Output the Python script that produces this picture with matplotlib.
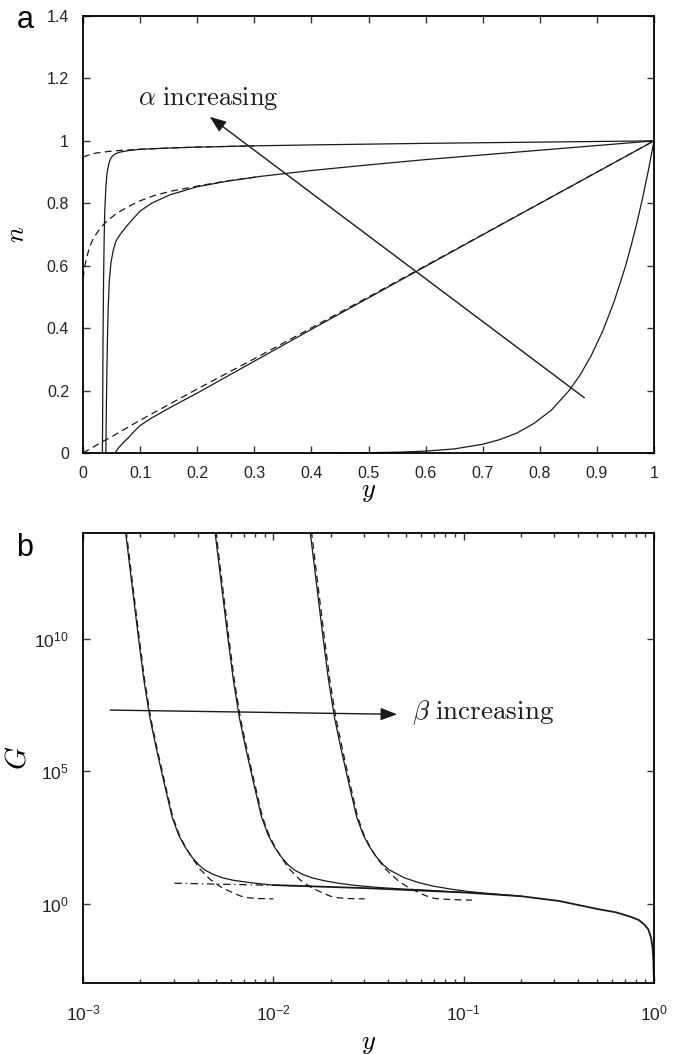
import numpy as np
import matplotlib
matplotlib.use("Agg")
import matplotlib.pyplot as plt
from matplotlib.ticker import FixedLocator, NullLocator, LogLocator, NullFormatter

plt.rcParams['font.family'] = ['Liberation Sans', 'DejaVu Sans']
plt.rcParams['axes.linewidth'] = 1.3

# ---------------- panel a data: n vs y ----------------
a_solid1_y = [0.034, 0.0345, 0.035, 0.036, 0.037, 0.038, 0.040, 0.042, 0.045, 0.048, 0.052, 0.057, 0.065, 0.08, 0.10, 0.15, 0.20, 0.30, 0.40, 0.60, 0.80, 1.00]
a_solid1_n = [0.0, 0.15, 0.35, 0.55, 0.68, 0.77, 0.85, 0.895, 0.925, 0.942, 0.952, 0.959, 0.964, 0.969, 0.973, 0.977, 0.980, 0.984, 0.987, 0.992, 0.996, 1.00]
a_dash1_y = [0.0, 0.01, 0.02, 0.035, 0.05, 0.07, 0.10, 0.15, 0.20, 0.30]
a_dash1_n = [0.948, 0.955, 0.960, 0.964, 0.967, 0.970, 0.973, 0.977, 0.980, 0.984]

a_solid2_y = [0.040, 0.0405, 0.041, 0.042, 0.043, 0.044, 0.046, 0.049, 0.053, 0.058, 0.065, 0.0765, 0.09, 0.10, 0.12, 0.152, 0.20, 0.25, 0.31, 0.40, 0.50, 0.60, 0.70, 0.80, 0.90, 1.00]
a_solid2_n = [0.0, 0.08, 0.16, 0.28, 0.38, 0.46, 0.55, 0.61, 0.65, 0.68, 0.70, 0.727, 0.755, 0.775, 0.800, 0.827, 0.853, 0.870, 0.886, 0.905, 0.923, 0.940, 0.955, 0.970, 0.985, 1.00]
a_dash2_y = [0.0, 0.002, 0.005, 0.01, 0.015, 0.02, 0.03, 0.04, 0.059, 0.08, 0.10, 0.125, 0.152, 0.20, 0.25, 0.31]
a_dash2_n = [0.56, 0.585, 0.615, 0.65, 0.675, 0.693, 0.72, 0.74, 0.768, 0.79, 0.808, 0.825, 0.838, 0.855, 0.871, 0.886]

a_solid3_y = [0.056, 0.058, 0.062, 0.070, 0.080, 0.090, 0.10, 0.12, 0.15, 0.20, 0.25, 0.30, 0.40, 0.50, 0.70, 1.00]
a_solid3_n = [0.0, 0.006, 0.016, 0.032, 0.050, 0.070, 0.088, 0.112, 0.143, 0.192, 0.243, 0.294, 0.396, 0.497, 0.699, 1.00]
a_dash3_y = [0.0, 0.03, 0.05, 0.10, 0.20, 0.30, 0.50, 1.00]
a_dash3_n = [0.0, 0.032, 0.052, 0.105, 0.205, 0.302, 0.500, 1.00]

a_solid4_y = [0.40, 0.45, 0.50, 0.55, 0.60, 0.65, 0.70, 0.73, 0.76, 0.79, 0.82, 0.85, 0.87, 0.89, 0.91, 0.93, 0.95, 0.96, 0.97, 0.98, 0.99, 1.00]
a_solid4_n = [0.0, 0.0003, 0.001, 0.0025, 0.006, 0.013, 0.028, 0.043, 0.064, 0.095, 0.137, 0.197, 0.248, 0.312, 0.39, 0.484, 0.598, 0.665, 0.737, 0.817, 0.904, 1.00]

a_xticks = [0, 0.1, 0.2, 0.3, 0.4, 0.5, 0.6, 0.7, 0.8, 0.9, 1]
a_xticklabels = ['0', '0.1', '0.2', '0.3', '0.4', '0.5', '0.6', '0.7', '0.8', '0.9', '1']
a_yticks = [0, 0.2, 0.4, 0.6, 0.8, 1.0, 1.2, 1.4]
a_yticklabels = ['0', '0.2', '0.4', '0.6', '0.8', '1', '1.2', '1.4']

# ---------------- panel b data: log10 G vs log10 y ----------------
b_solid1_logy = [-2.784, -2.774, -2.742, -2.708, -2.680, -2.648, -2.613, -2.572, -2.532, -2.498, -2.465, -2.428, -2.39, -2.36, -2.315, -2.265, -2.21, -2.13, -2.06, -2.0]
b_solid1_logG = [14.5, 13.9, 12.0, 10.0, 8.44, 7.0, 5.8, 4.5, 3.27, 2.6, 2.15, 1.76, 1.45, 1.27, 1.10, 0.97, 0.88, 0.80, 0.74, 0.70]
b_solid2_logy = [-2.314, -2.304, -2.272, -2.238, -2.21, -2.178, -2.143, -2.102, -2.062, -2.028, -1.995, -1.958, -1.92, -1.89, -1.845, -1.795, -1.73, -1.65, -1.56, -1.45, -1.33, -1.18, -1.0]
b_solid2_logG = [14.5, 13.9, 12.0, 10.0, 8.44, 7.0, 5.8, 4.5, 3.27, 2.6, 2.15, 1.76, 1.45, 1.27, 1.10, 0.97, 0.86, 0.76, 0.68, 0.61, 0.555, 0.50, 0.42]
b_solid3_logy = [-1.814, -1.804, -1.772, -1.738, -1.71, -1.678, -1.643, -1.602, -1.562, -1.528, -1.495, -1.458, -1.42, -1.39, -1.345, -1.31, -1.24, -1.16, -1.07, -0.98, -0.88, -0.78, -0.70]
b_solid3_logG = [14.5, 13.9, 12.0, 10.0, 8.44, 7.0, 5.8, 4.5, 3.27, 2.6, 2.15, 1.76, 1.45, 1.27, 1.10, 0.97, 0.80, 0.66, 0.55, 0.46, 0.39, 0.33, 0.28]
b_outer_logy = [-2.0, -1.5, -1.0, -0.7, -0.5, -0.3, -0.2, -0.126, -0.08, -0.05, -0.03, -0.015, -0.007, -0.003, 0.0]
b_outer_logG = [0.70, 0.58, 0.42, 0.28, 0.10, -0.20, -0.33, -0.49, -0.62, -0.80, -0.97, -1.3, -1.7, -2.2, -3.1]

b_dash1_logy = [-2.780, -2.770, -2.738, -2.704, -2.676, -2.644, -2.609, -2.568, -2.528, -2.494, -2.463, -2.43, -2.385, -2.33, -2.27, -2.21, -2.17, -2.13, -2.08, -2.0]
b_dash1_logG = [14.5, 13.9, 12.0, 10.0, 8.44, 7.0, 5.8, 4.5, 3.27, 2.6, 2.15, 1.76, 1.3, 0.9, 0.6, 0.40, 0.28, 0.22, 0.19, 0.18]
b_dash2_logy = [-2.309, -2.299, -2.267, -2.233, -2.205, -2.173, -2.138, -2.097, -2.057, -2.023, -1.992, -1.96, -1.915, -1.86, -1.80, -1.74, -1.70, -1.66, -1.61, -1.52]
b_dash2_logG = [14.5, 13.9, 12.0, 10.0, 8.44, 7.0, 5.8, 4.5, 3.27, 2.6, 2.15, 1.76, 1.3, 0.9, 0.6, 0.40, 0.28, 0.22, 0.19, 0.18]
b_dash3_logy = [-1.807, -1.797, -1.765, -1.731, -1.703, -1.671, -1.636, -1.596, -1.557, -1.524, -1.492, -1.46, -1.41, -1.35, -1.30, -1.245, -1.20, -1.15, -1.06, -0.956]
b_dash3_logG = [14.5, 13.9, 12.0, 10.0, 8.44, 7.0, 5.8, 4.5, 3.27, 2.6, 2.15, 1.76, 1.3, 0.9, 0.65, 0.45, 0.30, 0.19, 0.15, 0.13]
b_dashdot_logy = [-2.52, -1.8]
b_dashdot_logG = [0.77, 0.66]

b_xticks = [1e-3, 1e-2, 1e-1, 1e0]
b_xticklabels = [r'$\mathregular{10^{-3}}$', r'$\mathregular{10^{-2}}$', r'$\mathregular{10^{-1}}$', r'$\mathregular{10^{0}}$']
b_yticks = [1e0, 1e5, 1e10]
b_yticklabels = [r'$\mathregular{10^{0}}$', r'$\mathregular{10^{5}}$', r'$\mathregular{10^{10}}$']

LC = '#1a1a1a'
LW = 0.9
DASH = (0, (5.5, 3.5))
ARROW = dict(arrowstyle='-|>,head_length=1.0,head_width=0.38', lw=1.0, color=LC, shrinkA=0, shrinkB=0)

fig = plt.figure(figsize=(6.75, 10.54), dpi=100)
W, H = 675.0, 1054.0
axa = fig.add_axes([83 / W, 1 - 453 / H, 571 / W, 437 / H])
axb = fig.add_axes([83 / W, 1 - 983 / H, 571 / W, 450 / H])

# ---- panel a ----
for xs, ys in [(a_solid1_y, a_solid1_n), (a_solid2_y, a_solid2_n), (a_solid3_y, a_solid3_n), (a_solid4_y, a_solid4_n)]:
    axa.plot(xs, ys, color=LC, lw=LW)
for xs, ys in [(a_dash1_y, a_dash1_n), (a_dash2_y, a_dash2_n), (a_dash3_y, a_dash3_n)]:
    axa.plot(xs, ys, color=LC, lw=LW, linestyle=DASH)
axa.set_xlim(0, 1)
axa.set_ylim(0, 1.4)
axa.set_xticks(a_xticks)
axa.set_xticklabels(a_xticklabels)
axa.set_yticks(a_yticks)
axa.set_yticklabels(a_yticklabels)
axa.tick_params(direction='in', top=True, right=True, length=5, width=1, labelsize=11.5,
                colors='#333333', labelcolor='#222222')
axa.tick_params(axis='x', pad=9)
axa.tick_params(axis='y', pad=10)
axa.set_xlabel('$y$', math_fontfamily='cm', fontsize=19, labelpad=0)
axa.set_ylabel('$n$', math_fontfamily='cm', fontsize=19)
axa.yaxis.set_label_coords(-54 / 571, 0.5)
axa.annotate('', xy=(0.222, 1.077), xytext=(0.878, 0.177), arrowprops=ARROW)
axa.text(0.097, 1.137, r'$\alpha\ \mathrm{increasing}$', math_fontfamily='cm', fontsize=19, va='center', ha='left', color=LC)

# ---- panel b ----
for lys, lgs in [(b_solid1_logy, b_solid1_logG), (b_solid2_logy, b_solid2_logG), (b_solid3_logy, b_solid3_logG)]:
    axb.plot(10 ** np.array(lys), 10 ** np.array(lgs), color=LC, lw=LW)
axb.plot(10 ** np.array(b_outer_logy), 10 ** np.array(b_outer_logG), color=LC, lw=1.3)
for lys, lgs in [(b_dash1_logy, b_dash1_logG), (b_dash2_logy, b_dash2_logG), (b_dash3_logy, b_dash3_logG)]:
    axb.plot(10 ** np.array(lys), 10 ** np.array(lgs), color=LC, lw=LW, linestyle=DASH)
axb.plot(10 ** np.array(b_dashdot_logy), 10 ** np.array(b_dashdot_logG), color=LC, lw=LW, linestyle=(0, (6, 3, 1, 3)))
axb.set_xscale('log')
axb.set_yscale('log')
axb.set_xlim(1e-3, 1e0)
axb.set_ylim(1e-3, 1e14)
axb.xaxis.set_major_locator(FixedLocator(b_xticks))
axb.set_xticklabels(b_xticklabels)
axb.xaxis.set_minor_locator(LogLocator(base=10, subs=np.arange(2, 10)))
axb.xaxis.set_minor_formatter(NullFormatter())
axb.yaxis.set_major_locator(FixedLocator(b_yticks))
axb.set_yticklabels(b_yticklabels)
axb.yaxis.set_minor_locator(NullLocator())
axb.tick_params(which='both', direction='in', top=True, right=True, width=1, colors='#333333', labelcolor='#222222')
axb.tick_params(which='major', length=5, labelsize=12.5)
axb.tick_params(axis='x', which='major', pad=15)
axb.tick_params(axis='y', which='major', pad=10)
axb.tick_params(which='minor', length=3)
axb.set_xlabel('$y$', math_fontfamily='cm', fontsize=19, labelpad=6)
axb.set_ylabel('$G$', math_fontfamily='cm', fontsize=21)
axb.yaxis.set_label_coords(-52 / 571, 0.5)
axb.annotate('', xy=(10 ** -1.35, 10 ** 7.15), xytext=(10 ** -2.858, 10 ** 7.31), arrowprops=ARROW)
axb.text(10 ** -1.27, 10 ** 7.2, r'$\beta\ \mathrm{increasing}$', math_fontfamily='cm', fontsize=19.5, va='center', ha='left', color=LC)

fig.text(25 / W, 1 - 20 / H, 'a', fontsize=22, ha='center', va='center')
fig.text(25 / W, 1 - 548 / H, 'b', fontsize=22, ha='center', va='center')

fig.savefig('out.png', dpi=100)
